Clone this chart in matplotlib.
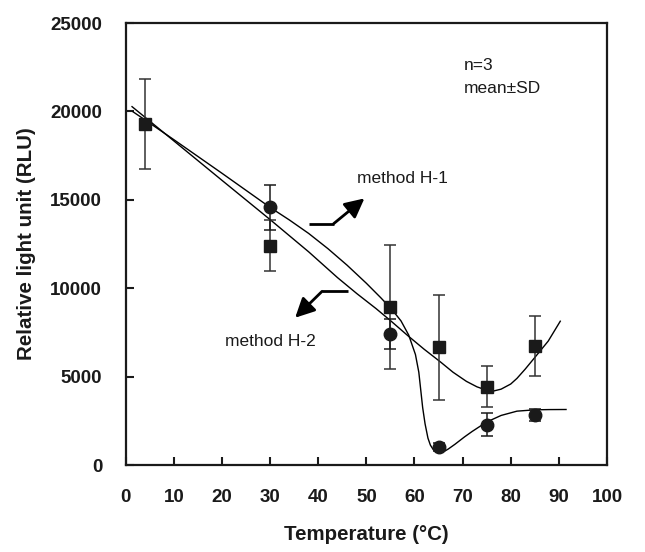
import matplotlib
matplotlib.use("Agg")
import matplotlib.pyplot as plt

plt.rcParams['font.family'] = ['Liberation Sans', 'DejaVu Sans']

# ---- data ----
sq_temp = [4, 30, 55, 65, 75, 85]
sq_rlu = [19300, 12400, 8940, 6670, 4430, 6730]
sq_err = [2550, 1450, 3500, 2970, 1170, 1700]

ci_temp = [30, 55, 65, 75, 85]
ci_rlu = [14570, 7400, 1020, 2280, 2840]
ci_err = [1250, 850, 200, 650, 350]

# fitted curve through circles
fitA_x = [1.5, 4, 10, 20, 30, 34, 38, 42, 46, 50, 53, 55.3, 57.2, 58.8, 60.2, 60.9,
          61.3, 61.7, 62.2, 62.8, 63.3, 63.9, 64.5, 65.2, 66.0, 67.0, 68.4, 70.4,
          72, 73.4, 75, 78, 81.3, 85, 88, 91.5]
fitA_y = [19980, 19520, 18400, 16500, 14570, 13860, 13100, 12240, 11300, 10280, 9460,
          8800, 8150, 7350, 6250, 5250, 4250, 3250, 2330, 1520, 1130, 870, 740, 700,
          740, 900, 1170, 1590, 1900, 2149, 2430, 2803, 3046, 3121, 3135, 3140]

# fitted curve through squares
fitB_x = [1.3, 4, 10, 20, 30, 38, 44, 48, 52, 55, 58.6, 62, 65.4, 68, 70.8, 73, 75,
          76.5, 78, 80, 81.3, 83, 85, 87.8, 90.3]
fitB_y = [20270, 19670, 18330, 16100, 13880, 12060, 10600, 9700, 8850, 8170, 7320,
          6550, 5830, 5250, 4730, 4420, 4230, 4190, 4290, 4580, 4900, 5420, 6080,
          7011, 8133]

# annotation arrows (tail, corner, tip)
arrow1_x = [38.0, 43.2, 49.6]
arrow1_y = [13650, 13650, 15080]
arrow2_x = [46.2, 40.8, 35.2]
arrow2_y = [9824, 9824, 8330]

x_ticks = [0, 10, 20, 30, 40, 50, 60, 70, 80, 90, 100]
y_ticks = [0, 5000, 10000, 15000, 20000, 25000]

fig = plt.figure(figsize=(6.45, 5.52), dpi=100)
ax = fig.add_axes([0.195, 0.1576, 0.746, 0.8007])

ax.plot(fitA_x, fitA_y, color='black', lw=1.0, zorder=2)
ax.plot(fitB_x, fitB_y, color='black', lw=1.0, zorder=2)

ax.errorbar(sq_temp, sq_rlu, yerr=sq_err, fmt='s', color='#1a1a1a', ecolor='#333333',
            elinewidth=1.1, capsize=4.5, capthick=1.1, markersize=9, zorder=3)
ax.errorbar(ci_temp, ci_rlu, yerr=ci_err, fmt='o', color='#1a1a1a', ecolor='#1a1a1a',
            elinewidth=1.1, capsize=4.5, capthick=1.1, markersize=9, zorder=3)

for ax_x, ax_y in [(arrow1_x, arrow1_y), (arrow2_x, arrow2_y)]:
    ax.plot(ax_x[:2], ax_y[:2], color='black', lw=2.0, solid_capstyle='butt')
    ax.annotate('', xy=(ax_x[2], ax_y[2]), xytext=(ax_x[1], ax_y[1]),
                arrowprops=dict(arrowstyle='-|>,head_length=0.9,head_width=0.45',
                                lw=2.0, color='black', shrinkA=0, shrinkB=0,
                                mutation_scale=13))

ax.text(48.1, 16180, 'method H-1', fontsize=12.5, va='center', ha='left', color='#1a1a1a')
ax.text(20.7, 7004, 'method H-2', fontsize=12.5, va='center', ha='left', color='#1a1a1a')
ax.text(70.2, 22600, 'n=3', fontsize=12.5, va='center', ha='left', color='#1a1a1a')
ax.text(70.2, 21300, 'mean±SD', fontsize=12.5, va='center', ha='left', color='#1a1a1a')

ax.set_xlim(0, 100)
ax.set_ylim(0, 25000)
ax.set_xticks(x_ticks)
ax.set_yticks(y_ticks)
ax.set_xticklabels([str(t) for t in x_ticks], fontsize=13.5, fontweight='bold', color='#1a1a1a')
ax.set_yticklabels([str(t) for t in y_ticks], fontsize=13.5, fontweight='bold', color='#1a1a1a')
ax.tick_params(axis='both', direction='in', length=6, width=1.5, pad=17, color='#1a1a1a')
ax.tick_params(axis='y', pad=17)
for sp in ax.spines.values():
    sp.set_linewidth(1.6)
    sp.set_color('#1a1a1a')

ax.set_xlabel('Temperature (°C)', fontsize=14.8, fontweight='bold', color='#1a1a1a', labelpad=14)
ax.set_ylabel('Relative light unit (RLU)', fontsize=14.8, fontweight='bold', color='#1a1a1a', labelpad=10)

fig.savefig('out.png', dpi=100)
